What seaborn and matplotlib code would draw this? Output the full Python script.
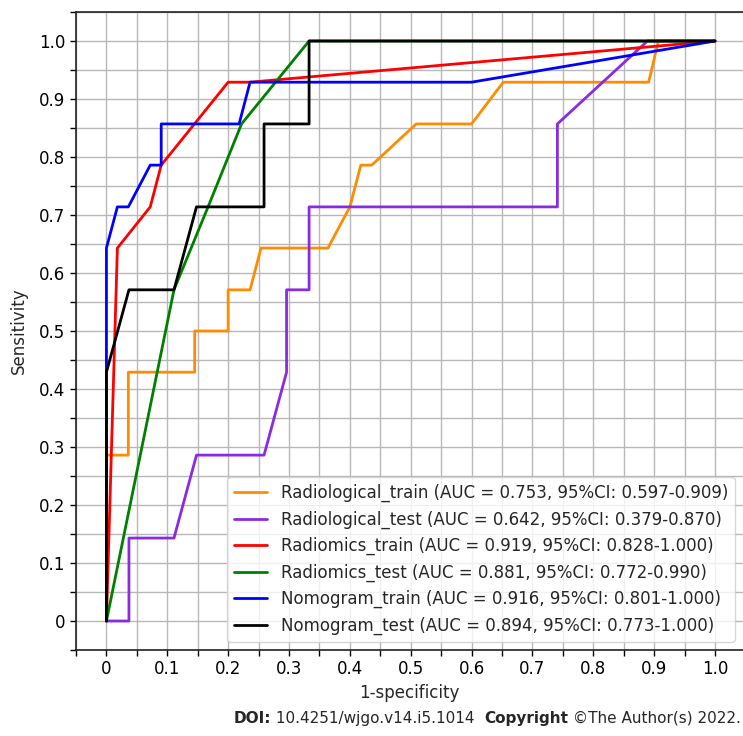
import numpy as np
import pandas as pd
import matplotlib
matplotlib.use("Agg")
import matplotlib.pyplot as plt
from matplotlib.ticker import MultipleLocator, FuncFormatter
import seaborn as sns

# ROC points (fpr, tpr)
rad_train_fpr = [0, 0, 0.036, 0.036, 0.145, 0.145, 0.2, 0.2, 0.236, 0.254, 0.364, 0.4, 0.418, 0.436, 0.509, 0.6, 0.652, 0.891, 0.907, 1.0]
rad_train_tpr = [0, 0.286, 0.286, 0.429, 0.429, 0.5, 0.5, 0.571, 0.571, 0.643, 0.643, 0.714, 0.786, 0.786, 0.857, 0.857, 0.929, 0.929, 1.0, 1.0]

rad_test_fpr = [0, 0.037, 0.037, 0.111, 0.148, 0.259, 0.296, 0.296, 0.333, 0.333, 0.741, 0.741, 0.889, 1.0]
rad_test_tpr = [0, 0, 0.143, 0.143, 0.286, 0.286, 0.429, 0.571, 0.571, 0.714, 0.714, 0.857, 1.0, 1.0]

radiomics_train_fpr = [0, 0.018, 0.072, 0.09, 0.2, 0.236, 1.0]
radiomics_train_tpr = [0, 0.643, 0.714, 0.786, 0.929, 0.929, 1.0]

radiomics_test_fpr = [0, 0.111, 0.167, 0.222, 0.333, 1.0]
radiomics_test_tpr = [0, 0.571, 0.714, 0.857, 1.0, 1.0]

nomo_train_fpr = [0, 0, 0.018, 0.036, 0.072, 0.09, 0.09, 0.218, 0.236, 0.6, 1.0]
nomo_train_tpr = [0, 0.643, 0.714, 0.714, 0.786, 0.786, 0.857, 0.857, 0.929, 0.929, 1.0]

nomo_test_fpr = [0, 0, 0.037, 0.111, 0.148, 0.259, 0.259, 0.333, 0.333, 1.0]
nomo_test_tpr = [0, 0.429, 0.571, 0.571, 0.714, 0.714, 0.857, 0.857, 1.0, 1.0]

labels = [
    "Radiological_train (AUC = 0.753, 95%CI: 0.597-0.909)",
    "Radiological_test (AUC = 0.642, 95%CI: 0.379-0.870)",
    "Radiomics_train (AUC = 0.919, 95%CI: 0.828-1.000)",
    "Radiomics_test (AUC = 0.881, 95%CI: 0.772-0.990)",
    "Nomogram_train (AUC = 0.916, 95%CI: 0.801-1.000)",
    "Nomogram_test (AUC = 0.894, 95%CI: 0.773-1.000)",
]
colors = ["#ff8c00", "#8a2be2", "red", "green", "blue", "black"]

curves = [(rad_train_fpr, rad_train_tpr), (rad_test_fpr, rad_test_tpr),
          (radiomics_train_fpr, radiomics_train_tpr), (radiomics_test_fpr, radiomics_test_tpr),
          (nomo_train_fpr, nomo_train_tpr), (nomo_test_fpr, nomo_test_tpr)]

frames = []
for lab, (f, t) in zip(labels, curves):
    frames.append(pd.DataFrame({"fpr": f, "tpr": t, "model": lab}))
df = pd.concat(frames, ignore_index=True)

sns.set_style("white")
plt.rcParams['font.family'] = ['DejaVu Sans']

fig = plt.figure(figsize=(7.43, 7.36), dpi=100)
ax = fig.add_axes([76 / 743, 1 - 650 / 736, 1 - 76 / 743, (650 - 12) / 736])

sns.lineplot(data=df, x="fpr", y="tpr", hue="model", palette=colors, hue_order=labels,
             sort=False, estimator=None, units="model", linewidth=2, ax=ax)

ax.set_xlim(-0.05, 1.046)
ax.set_ylim(-0.05, 1.05)
for axis in (ax.xaxis, ax.yaxis):
    axis.set_major_locator(MultipleLocator(0.1))
    axis.set_minor_locator(MultipleLocator(0.05))
    axis.set_major_formatter(FuncFormatter(lambda v, p: "0" if abs(v) < 1e-9 else f"{v:.1f}"))
ax.grid(True, which="both", color="#b8b8b8", linewidth=1.0)
ax.set_axisbelow(True)
ax.tick_params(which="both", direction="out", length=4, width=1, colors="black",
               left=True, bottom=True, labelsize=12)
for side in ("left", "bottom", "top"):
    ax.spines[side].set_color("#222222")
    ax.spines[side].set_linewidth(1.2)
ax.spines["right"].set_visible(False)

ax.set_xlabel("1-specificity", fontsize=12, labelpad=4)
ax.set_ylabel("Sensitivity", fontsize=12, labelpad=8)

leg = ax.legend(loc="lower right", fontsize=12, frameon=True, framealpha=0.8)
for line in leg.get_lines():
    line.set_linewidth(2)

# bold/regular mix for the DOI line
parts = [("DOI:", "bold"), (" 10.4251/wjgo.v14.i5.1014  ", "normal"),
         ("Copyright", "bold"), (" ©The Author(s) 2022.", "normal")]
renderer = fig.canvas.get_renderer()
x = 0.997
for txt, w in reversed(parts):
    t = fig.text(x, 0.024, txt, ha="right", va="center", fontsize=11, fontweight=w)
    bb = t.get_window_extent(renderer=renderer)
    x -= bb.width / fig.bbox.width

fig.savefig("out.png", dpi=100)
